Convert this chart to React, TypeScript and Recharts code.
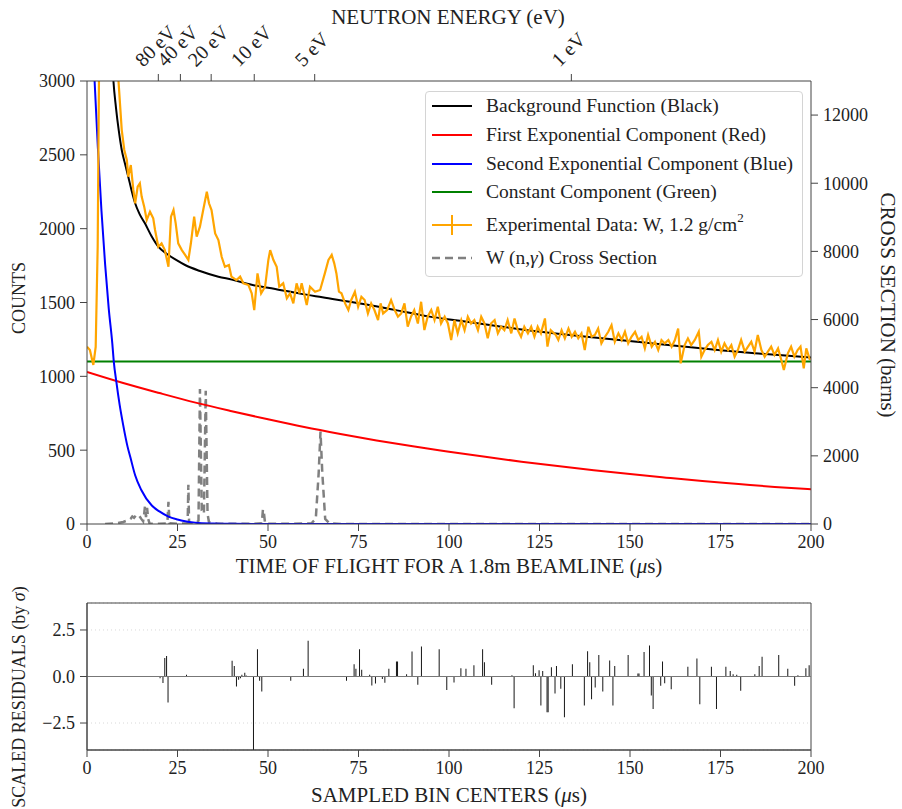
import React from 'react';
import {
  ComposedChart,
  Line,
  Bar,
  XAxis,
  YAxis,
  Legend,
  ReferenceLine,
  ReferenceArea,
  CartesianGrid,
  Label,
} from 'recharts';

const FONT = '"Liberation Serif", "Times New Roman", serif';
const TEXT = '#222';
const SPINE = '#444';

// ---------- tick definitions ----------
const timeTicks = [0, 25, 50, 75, 100, 125, 150, 175, 200];
const countTicks = [0, 500, 1000, 1500, 2000, 2500, 3000];
const crossTicks = [0, 2000, 4000, 6000, 8000, 10000, 12000];
const residualTicks = [-2.5, 0, 2.5];
const energyTickTimes = [19.7, 25.8, 34.3, 46.2, 62.9, 133.8];
const energyTickLabels = ['80 eV', '40 eV', '20 eV', '10 eV', '5 eV', '1 eV'];

// ---------- series (time us, value) ----------
const backgroundFunction: [number, number][] = [
  [6.2, 3500], [6.8, 3220], [7.3, 3000], [8, 2820], [8.8, 2660], [9.6, 2533], [10.5, 2440],
  [11.4, 2352], [12.3, 2260], [13.3, 2172], [14.5, 2100], [16, 2036], [17.8, 1950], [19.7, 1878],
  [22, 1830], [24.5, 1790], [27.1, 1754], [31, 1715], [36.3, 1675], [40, 1655], [45.5, 1620],
  [52, 1592], [58.8, 1560], [65, 1535], [75.9, 1492], [85, 1450], [94.3, 1406], [103, 1376],
  [112.7, 1343], [121, 1314], [129.5, 1290], [138, 1268], [147.7, 1245], [157, 1221],
  [166.1, 1198], [175, 1177], [184.5, 1157], [192, 1142], [200, 1128],
];

const firstExponential: [number, number][] = [
  [0, 1030], [10, 955], [20, 887], [30, 822], [40, 764], [50, 709], [60, 657], [70, 610],
  [80, 566], [90, 526], [100, 490], [110, 455], [120, 422], [130, 392], [140, 364], [150, 338],
  [160, 314], [170, 291], [180, 271], [190, 251], [200, 235],
];

const secondExponential: [number, number][] = [
  [0, 4400], [1, 3650], [2, 3050], [3, 2550], [4, 2120], [5, 1760], [6, 1460], [7, 1220],
  [7.4, 1100], [8.1, 964], [9, 810], [10, 670], [11.2, 524], [12, 450], [13.3, 330], [15, 230],
  [17.9, 125], [20, 85], [22.5, 50], [25, 30], [27.1, 18], [30, 9], [35, 3], [40, 1], [50, 0],
  [100, 0], [200, 0],
];

const constantComponent: [number, number][] = [
  [0, 1100], [200, 1100],
];

const experimentalData: [number, number][] = [
  [0, 1201], [0.8, 1178], [1.75, 1077], [2.4, 1200], [2.95, 1878], [3.3, 3000], [4, 3600],
  [5.5, 4000], [7.5, 3700], [8.7, 3000], [9.6, 2668], [10.3, 2533], [11.0, 2465], [11.4, 2352],
  [12.1, 2431], [12.8, 2262], [13.3, 2172], [14.0, 2284], [14.6, 2307], [15.1, 2217],
  [15.8, 2149], [16.5, 2059], [17.4, 2115], [18.3, 2070], [18.8, 1991], [19.7, 1878],
  [20.6, 1901], [21.5, 1855], [22.5, 1742], [23.2, 2081], [23.9, 2126], [24.5, 2036],
  [25.2, 1901], [26.2, 1855], [27.1, 1822], [28.0, 1788], [28.7, 1901], [29.6, 2081],
  [30.3, 1946], [31.2, 2014], [32.1, 2126], [33.1, 2250], [33.7, 2172], [34.4, 2126],
  [35.4, 1968], [36.3, 1923], [37.2, 1810], [38.1, 1742], [39.2, 1754], [39.9, 1675],
  [41.3, 1652], [42.3, 1675], [43.2, 1630], [44.6, 1618], [45.5, 1562], [46.2, 1449],
  [47.1, 1697], [48.1, 1562], [49.2, 1607], [50.1, 1788], [50.6, 1855], [51.5, 1788],
  [52.4, 1742], [53.1, 1607], [54.2, 1630], [55.2, 1528], [56.1, 1562], [57.0, 1494],
  [57.9, 1630], [58.7, 1562], [59.3, 1630], [60.7, 1483], [61.6, 1607], [63.0, 1573],
  [64.4, 1585], [65.7, 1697], [66.7, 1788], [67.6, 1822], [68.3, 1765], [68.9, 1697],
  [69.6, 1573], [70.3, 1562], [71.3, 1494], [72.2, 1449], [73.0, 1517], [74.0, 1573],
  [74.9, 1471], [75.8, 1539], [76.7, 1517], [77.6, 1426], [78.5, 1494], [79.4, 1449],
  [80.4, 1381], [81.1, 1494], [81.8, 1426], [82.9, 1449], [84.0, 1517], [85.0, 1449],
  [85.9, 1404], [86.8, 1426], [87.7, 1494], [88.6, 1336], [89.5, 1404], [90.4, 1449],
  [91.4, 1358], [92.3, 1505], [93.2, 1313], [94.1, 1404], [95.1, 1449], [96.0, 1381],
  [96.9, 1471], [97.8, 1358], [98.8, 1404], [99.7, 1358], [100.6, 1246], [101.5, 1381],
  [102.4, 1291], [103.4, 1381], [104.3, 1313], [105.2, 1404], [106.1, 1358], [107.0, 1381],
  [108.0, 1313], [108.9, 1404], [109.8, 1358], [110.7, 1257], [111.6, 1358], [112.6, 1381],
  [113.5, 1291], [114.4, 1336], [115.3, 1313], [116.2, 1381], [117.2, 1291], [118.1, 1392],
  [119.0, 1313], [119.9, 1268], [120.8, 1336], [121.8, 1291], [122.7, 1336], [123.6, 1268],
  [124.5, 1336], [125.4, 1291], [126.5, 1392], [127.2, 1201], [128.1, 1313], [129.5, 1280],
  [130.2, 1246], [131.1, 1313], [132.0, 1257], [133.0, 1324], [133.9, 1268], [134.8, 1302],
  [135.7, 1257], [136.6, 1291], [137.5, 1178], [138.5, 1336], [139.4, 1268], [140.3, 1280],
  [141.2, 1324], [142.1, 1223], [143.1, 1268], [144.0, 1302], [144.9, 1347], [145.8, 1234],
  [146.8, 1291], [147.7, 1246], [148.6, 1302], [149.5, 1223], [150.4, 1268], [151.4, 1302],
  [152.3, 1246], [153.2, 1268], [154.1, 1189], [155.0, 1280], [156.0, 1201], [156.9, 1234],
  [157.8, 1178], [158.7, 1246], [159.6, 1223], [160.6, 1246], [161.5, 1201], [162.4, 1246],
  [163.3, 1324], [164.0, 1088], [165.1, 1212], [166.0, 1257], [166.9, 1212], [167.9, 1246],
  [169.0, 1302], [169.7, 1133], [170.6, 1178], [171.5, 1212], [172.5, 1234], [173.4, 1178],
  [174.3, 1246], [175.2, 1167], [176.1, 1223], [177.1, 1178], [178.0, 1212], [178.9, 1133],
  [179.8, 1178], [180.7, 1246], [181.7, 1167], [182.6, 1201], [183.5, 1234], [184.4, 1167],
  [185.3, 1280], [186.3, 1178], [187.2, 1133], [188.1, 1167], [189.0, 1201], [189.9, 1145],
  [190.9, 1189], [191.8, 1111], [192.5, 1043], [193.6, 1156], [194.5, 1201], [195.4, 1133],
  [196.3, 1178], [197.1, 1201], [198.0, 1054], [198.7, 1189], [199.7, 1111],
];

// W (n,gamma) cross section in barns
const crossSection: [number, number][] = [
  [5, 0], [8, 20], [10, 60], [11, 100], [12, 150], [12.5, 220], [13, 180], [13.5, 250],
  [14, 200], [14.5, 230], [15, 150], [15.5, 80], [15.8, 300], [16.0, 510], [16.3, 200],
  [16.6, 470], [16.9, 150], [17.3, 10], [20, 10], [22.2, 20], [22.5, 650], [22.8, 20],
  [25, 5], [27.8, 20], [28.0, 1150], [28.2, 30], [30, 20], [30.8, 100], [31.2, 3960],
  [31.7, 400], [32.3, 300], [32.8, 3910], [33.3, 300], [33.7, 50], [36, 10], [45, 5],
  [48.3, 20], [48.6, 430], [48.9, 300], [49.2, 10], [55, 5], [62, 20], [63.2, 150],
  [64.0, 1500], [64.5, 2710], [65.0, 1500], [65.8, 150], [67, 20], [70, 0], [200, 0],
];

// scaled residuals (bin centre us, residual in sigma)
const residuals: [number, number][] = [
  [20.2, -0.1], [21.0, -0.35], [21.5, 1.0], [22.0, 1.1], [22.4, -1.4], [27.5, 0.1],
  [40.1, 0.85], [40.7, 0.57], [41.3, -0.54], [41.9, -0.18], [42.4, -0.1], [42.8, 0.1],
  [43.6, 0.2], [44.0, 0.05], [46.0, -4.2], [47.1, 1.47], [47.7, -0.23], [48.3, -0.81],
  [56.3, -0.23], [59.8, 0.41], [61.1, 1.92], [71.7, -0.23], [73.8, 0.66], [74.3, 0.41],
  [75.3, 1.47], [75.9, 0.36], [78.1, 0.09], [78.7, -0.48], [79.7, -0.38], [81.6, -0.13],
  [82.3, -0.34], [83.4, 0.41], [85.5, 0.81], [85.8, 0.8], [88.3, 0.12], [89.8, 1.34],
  [91.4, -0.45], [92.4, 1.61], [97.3, 1.47], [99.4, -0.72], [101.4, -0.32], [103.3, 0.45],
  [104.7, 0.41], [106.9, 0.61], [109.3, 1.47], [109.8, 0.77], [111.8, -0.45], [117.4, 0.07],
  [118.0, -1.7], [123.3, 0.61], [123.9, 0.18], [124.9, 0.34], [125.4, -1.56], [125.9, 0.29],
  [127.1, -1.92], [127.4, -1.92], [128.3, 0.5], [129.3, -0.91], [129.7, 0.56], [130.9, -0.66],
  [131.9, -2.19], [134.1, 0.66], [137.4, -1.56], [138.3, 1.36], [138.9, 0.77], [139.4, -1.22],
  [140.4, -0.59], [141.4, 1.16], [142.5, -0.81], [144.4, 0.86], [145.3, -1.56], [145.8, 0.57],
  [149.5, 1.16], [152.2, 0.16], [152.5, 0.16], [153.9, 1.31], [155.4, 1.67], [155.9, -1.02],
  [156.4, -1.74], [158.5, -0.5], [159.0, 0.81], [159.6, -0.36], [161.4, -0.68], [166.0, 0.52],
  [168.5, 0.97], [169.3, -1.49], [172.5, 0.52], [173.9, -1.74], [176.5, 0.52], [177.7, 0.29],
  [178.5, 0.12], [179.5, 0.09], [180.6, -0.77], [184.5, 0.12], [185.7, 0.56], [186.5, 1.06],
  [191.1, 1.16], [193.6, 0.41], [195.5, -0.5], [196.4, 0.07], [198.6, 0.45], [199.5, 0.61],
];

const pts = (arr: [number, number][]) => arr.map(([t, y]) => ({ t, y }));
const residualRows = residuals.map(([t, r]) => ({ t, r }));

const tickStyle = { fontSize: 18, fontFamily: FONT, fill: TEXT };

function EnergyTick(props: any) {
  const { x, y, payload } = props;
  const i = energyTickTimes.indexOf(payload.value);
  const label = i >= 0 ? energyTickLabels[i] : '';
  const fs = 20;
  const digits = label.replace(/\D/g, '').length;
  const L = fs * (digits * 0.5 + 1.41);
  const half = (L + fs * 0.75) * 0.3536;
  const cx = x - 3;
  const cy = y - half;
  return (
    <text
      x={cx}
      y={cy}
      textAnchor="middle"
      dominantBaseline="central"
      transform={`rotate(-45 ${cx} ${cy})`}
      fontSize={fs}
      fontFamily={FONT}
      fill={TEXT}
    >
      {label}
    </text>
  );
}

function Swatch({ color, dash, cross }: { color: string; dash?: string; cross?: boolean }) {
  return (
    <svg width={44} height={26} style={{ display: 'block' }}>
      <line x1={2} x2={42} y1={13} y2={13} stroke={color} strokeWidth={dash ? 2.5 : 2} strokeDasharray={dash} />
      {cross ? <line x1={22} x2={22} y1={3} y2={23} stroke={color} strokeWidth={2} /> : null}
    </svg>
  );
}

function LegendBox() {
  const rows: { c: number; sw: React.ReactNode; text: React.ReactNode }[] = [
    { c: 14, sw: <Swatch color="#000000" />, text: 'Background Function (Black)' },
    { c: 42.5, sw: <Swatch color="#ff0000" />, text: 'First Exponential Component (Red)' },
    { c: 71.5, sw: <Swatch color="#0000ff" />, text: 'Second Exponential Component (Blue)' },
    { c: 100, sw: <Swatch color="#008000" />, text: 'Constant Component (Green)' },
    {
      c: 133,
      sw: <Swatch color="#ffa500" cross />,
      text: (
        <span>
          Experimental Data: W, 1.2 g/cm<sup style={{ fontSize: 13, verticalAlign: 'top', lineHeight: '12px' }}>2</sup>
        </span>
      ),
    },
    {
      c: 165.5,
      sw: <Swatch color="#808080" dash="8 5" />,
      text: (
        <span>
          W (n,<i>γ</i>) Cross Section
        </span>
      ),
    },
  ];
  return (
    <div
      style={{
        position: 'relative',
        width: 376,
        height: 184,
        border: '1px solid #d4d4d4',
        borderRadius: 4,
        background: 'rgba(255,255,255,0.85)',
        fontFamily: FONT,
        fontSize: 19.5,
        color: TEXT,
        boxSizing: 'content-box',
      }}
    >
      {rows.map((r, i) => (
        <div
          key={i}
          style={{
            position: 'absolute',
            left: 4,
            top: r.c - 13,
            height: 26,
            display: 'flex',
            alignItems: 'center',
            whiteSpace: 'nowrap',
          }}
        >
          {r.sw}
          <span style={{ marginLeft: 12, lineHeight: '26px' }}>{r.text}</span>
        </div>
      ))}
    </div>
  );
}

function FixedText({
  x,
  y,
  rotate,
  size = 18,
  children,
}: {
  x: number;
  y: number;
  rotate?: number;
  size?: number;
  children: React.ReactNode;
}) {
  return (
    <text
      x={x}
      y={y}
      textAnchor="middle"
      dominantBaseline="central"
      transform={rotate ? `rotate(${rotate} ${x} ${y})` : undefined}
      fontSize={size}
      fontFamily={FONT}
      fill={TEXT}
    >
      {children}
    </text>
  );
}

export default function App() {
  return (
    <div
      style={{
        position: 'fixed',
        left: 0,
        top: 0,
        width: 902,
        height: 809,
        background: '#fff',
        overflow: 'hidden',
      }}
    >
      <div style={{ position: 'absolute', left: 0, top: 0 }}>
        <ComposedChart width={902} height={580} margin={{ top: 31, right: 31, bottom: 14, left: 27 }}>
          <XAxis
            xAxisId="bottom"
            dataKey="t"
            type="number"
            domain={[0, 200]}
            allowDataOverflow
            ticks={timeTicks}
            tick={tickStyle}
            tickSize={7}
            tickMargin={4}
            height={42}
            stroke={SPINE}
            tickLine={{ stroke: SPINE }}
            axisLine={{ stroke: SPINE }}
          >
            <Label
              content={() => (
                <FixedText x={449} y={566} size={21}>
                  TIME OF FLIGHT FOR A 1.8m BEAMLINE (<tspan fontStyle="italic">μ</tspan>s)
                </FixedText>
              )}
            />
          </XAxis>
          <XAxis
            xAxisId="top"
            orientation="top"
            dataKey="t"
            type="number"
            domain={[0, 200]}
            allowDataOverflow
            ticks={energyTickTimes}
            tick={<EnergyTick />}
            tickSize={7}
            tickMargin={6}
            height={50}
            interval={0}
            stroke={SPINE}
            axisLine={{ stroke: SPINE }}
          >
            <Label content={() => <FixedText x={448} y={17} size={21}>NEUTRON ENERGY (eV)</FixedText>} />
          </XAxis>
          <YAxis
            yAxisId="left"
            type="number"
            domain={[0, 3000]}
            allowDataOverflow
            ticks={countTicks}
            tick={tickStyle}
            tickSize={7}
            tickMargin={5}
            width={60}
            stroke={SPINE}
            axisLine={{ stroke: SPINE }}
          >
            <Label content={() => <FixedText x={19} y={298} rotate={-90}>COUNTS</FixedText>} />
          </YAxis>
          <YAxis
            yAxisId="right"
            orientation="right"
            type="number"
            domain={[0, 13000]}
            allowDataOverflow
            ticks={crossTicks}
            tick={tickStyle}
            tickSize={7}
            tickMargin={5}
            width={60}
            stroke={SPINE}
            axisLine={{ stroke: SPINE }}
          >
            <Label content={() => <FixedText x={888} y={305} rotate={90} size={21}>CROSS SECTION (barns)</FixedText>} />
          </YAxis>

          <Line
            data={pts(crossSection)}
            xAxisId="bottom"
            yAxisId="right"
            dataKey="y"
            type="linear"
            stroke="#808080"
            strokeWidth={2.5}
            strokeDasharray="8 5"
            dot={false}
            isAnimationActive={false}
          />
          <Line data={pts(constantComponent)} xAxisId="bottom" yAxisId="left" dataKey="y" type="linear" stroke="#008000" strokeWidth={2} dot={false} isAnimationActive={false} />
          <Line data={pts(firstExponential)} xAxisId="bottom" yAxisId="left" dataKey="y" type="monotone" stroke="#ff0000" strokeWidth={2} dot={false} isAnimationActive={false} />
          <Line data={pts(secondExponential)} xAxisId="bottom" yAxisId="left" dataKey="y" type="monotone" stroke="#0000ff" strokeWidth={2} dot={false} isAnimationActive={false} />
          <Line data={pts(backgroundFunction)} xAxisId="bottom" yAxisId="left" dataKey="y" type="monotone" stroke="#000000" strokeWidth={2} dot={false} isAnimationActive={false} />
          <Line data={pts(experimentalData)} xAxisId="bottom" yAxisId="left" dataKey="y" type="linear" stroke="#ffa500" strokeWidth={2.2} dot={false} isAnimationActive={false} />

          <Legend
            layout="vertical"
            align="center"
            verticalAlign="middle"
            wrapperStyle={{ left: 425, top: 91, width: 378, height: 186 }}
            content={() => <LegendBox />}
          />
        </ComposedChart>
      </div>

      <div style={{ position: 'absolute', left: 0, top: 580 }}>
        <ComposedChart
          width={902}
          height={229}
          data={residualRows}
          margin={{ top: 23, right: 91, bottom: 14, left: 27 }}
        >
          <CartesianGrid vertical={false} stroke="#d8d8d8" strokeDasharray="1 3" />
          <XAxis
            dataKey="t"
            type="number"
            domain={[0, 200]}
            allowDataOverflow
            ticks={timeTicks}
            tick={tickStyle}
            tickSize={7}
            tickMargin={4}
            height={45}
            stroke={SPINE}
            axisLine={{ stroke: SPINE }}
          >
            <Label
              content={() => (
                <FixedText x={449} y={215} size={21}>
                  SAMPLED BIN CENTERS (<tspan fontStyle="italic">μ</tspan>s)
                </FixedText>
              )}
            />
          </XAxis>
          <YAxis
            type="number"
            domain={[-3.95, 3.95]}
            allowDataOverflow
            ticks={residualTicks}
            tickFormatter={(v: number) => (v < 0 ? '\u2212' + Math.abs(v).toFixed(1) : v.toFixed(1))}
            tick={tickStyle}
            tickSize={7}
            tickMargin={5}
            width={60}
            stroke={SPINE}
            axisLine={{ stroke: SPINE }}
          >
            <Label
              content={() => (
                <FixedText x={19} y={117} rotate={-90}>
                  SCALED RESIDUALS (by <tspan fontStyle="italic">σ</tspan>)
                </FixedText>
              )}
            />
          </YAxis>
          <ReferenceLine y={0} stroke="#777" strokeWidth={1.2} />
          <Bar dataKey="r" fill="#111" barSize={1.8} isAnimationActive={false} />
          <ReferenceArea x1={0} x2={200} y1={-3.95} y2={3.95} fill="none" stroke={SPINE} strokeWidth={1} />
        </ComposedChart>
      </div>
    </div>
  );
}
